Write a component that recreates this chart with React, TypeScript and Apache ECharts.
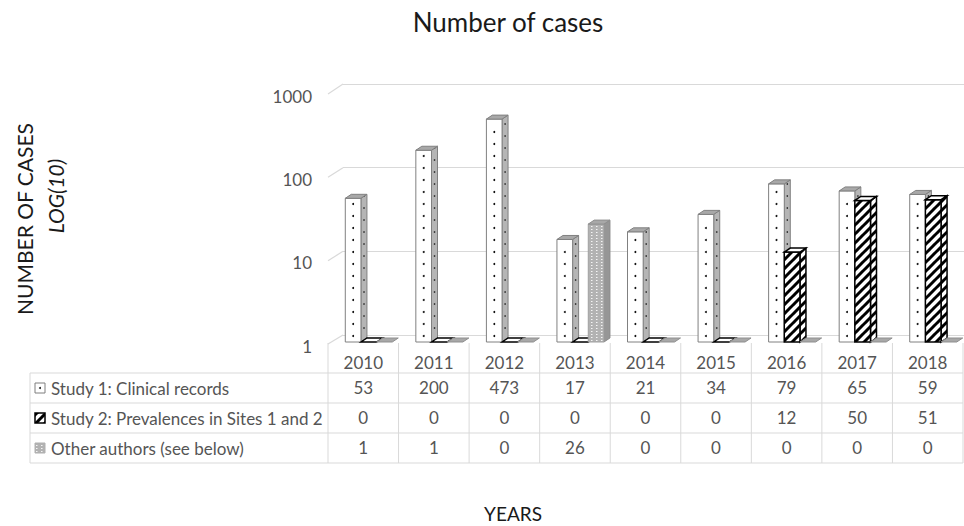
import React, { useEffect, useRef } from "react";
import * as echarts from "echarts";

const years = ["2010", "2011", "2012", "2013", "2014", "2015", "2016", "2017", "2018"];
const study1 = [53, 200, 473, 17, 21, 34, 79, 65, 59];
const study2 = [0, 0, 0, 0, 0, 0, 12, 50, 51];
const others = [1, 1, 0, 26, 0, 0, 0, 0, 0];
const seriesNames = [
  "Study 1: Clinical records",
  "Study 2: Prevalences in Sites 1 and 2",
  "Other authors (see below)",
];
const yTicks = [1, 10, 100, 1000];
const titleText = "Number of cases";
const yTitle1 = "NUMBER OF CASES";
const yTitle2 = "LOG(10)";
const xTitle = "YEARS";

const W = 964;
const H = 526;
const FONT = "Lato, 'Open Sans', sans-serif";
const GRID_LEFT = 328;
const GRID_RIGHT = 1;
const BAR_TOP = 92;
const BAR_BASE = 342;
const ROW_LINES = [373, 403, 433, 463];
const TABLE_LEFT = 30;
const LINE_COLOR = "#d9d9d9";
const TEXT_COLOR = "#555555";
const FS = 17;

function makePattern(w: number, h: number, draw: (ctx: CanvasRenderingContext2D) => void) {
  const c = document.createElement("canvas");
  c.width = w;
  c.height = h;
  const ctx = c.getContext("2d") as CanvasRenderingContext2D;
  draw(ctx);
  return { image: c.toDataURL(), repeat: "repeat", imageWidth: w, imageHeight: h } as any;
}

export default function App() {
  const ref = useRef<HTMLDivElement>(null);
  useEffect(() => {
    if (!ref.current) return;
    const chart = echarts.init(ref.current, null, { renderer: "svg", width: W, height: H });

    const stripe = makePattern(9, 9, (ctx) => {
      ctx.fillStyle = "#ffffff";
      ctx.fillRect(0, 0, 9, 9);
      ctx.strokeStyle = "#000000";
      ctx.lineWidth = 3;
      for (const o of [-9, 0, 9]) {
        ctx.beginPath();
        ctx.moveTo(o - 1, 10);
        ctx.lineTo(o + 10, -1);
        ctx.stroke();
      }
    });
    const grayDots = makePattern(5, 3, (ctx) => {
      ctx.fillStyle = "#b2b2b2";
      ctx.fillRect(0, 0, 5, 3);
      ctx.fillStyle = "#f4f4f4";
      ctx.fillRect(1, 1, 1.5, 1);
    });

    const styles = [
      {
        front: { fill: "#ffffff", stroke: "#808080", lineWidth: 1 },
        side: { fill: "#b5b5b5", stroke: "#808080", lineWidth: 1 },
        top: { fill: "#a8a8a8", stroke: "#808080", lineWidth: 1 },
      },
      {
        front: { fill: stripe, stroke: "#000000", lineWidth: 1.5 },
        side: { fill: stripe, stroke: "#000000", lineWidth: 1.5 },
        top: { fill: "#ffffff", stroke: "#000000", lineWidth: 1.5 },
      },
      {
        front: { fill: grayDots, stroke: "#a0a0a0", lineWidth: 1 },
        side: { fill: "#969696", stroke: "#8a8a8a", lineWidth: 1 },
        top: { fill: "#a8a8a8", stroke: "#8f8f8f", lineWidth: 1 },
      },
    ];

    const makeRenderItem = (si: number) => (params: any, api: any) => {
      const ci = api.value(0);
      const raw = api.value(1);
      const v = Math.max(raw, 1);
      const top = api.coord([ci, v]);
      const base = api.coord([ci, 1]);
      const band = api.size([1, 0])[0];
      const w = band * 0.222;
      const dx = 6;
      const dy = -4;
      const x0 = base[0] - band * 0.255 + si * w;
      const yt = top[1];
      const yb = base[1];
      const h = yb - yt;
      const st = styles[si];
      const children: any[] = [];
      if (h > 0.5) {
        children.push({
          type: "polygon",
          shape: { points: [[x0 + w, yt], [x0 + w + dx, yt + dy], [x0 + w + dx, yb + dy], [x0 + w, yb]] },
          style: st.side,
        });
        children.push({ type: "rect", shape: { x: x0, y: yt, width: w, height: h }, style: st.front });
        if (si === 0) {
          for (let y = yb - 6; y > yt + 3; y -= 12) {
            children.push({ type: "circle", shape: { cx: x0 + w / 2, cy: y, r: 1 }, style: { fill: "#111" } });
            children.push({
              type: "circle",
              shape: { cx: x0 + w + dx / 2, cy: y - 6 + dy / 2, r: 0.8 },
              style: { fill: "#333" },
            });
          }
        }
      }
      children.push({
        type: "polygon",
        shape: { points: [[x0, yt], [x0 + dx, yt + dy], [x0 + w + dx, yt + dy], [x0 + w, yt]] },
        style: st.top,
      });
      return { type: "group", children };
    };

    const allSeries = [study1, study2, others];
    const rows = allSeries;
    const labelOffsets = [25, 55, 85];

    const xAxes: any[] = [
      {
        type: "category",
        gridIndex: 0,
        data: years,
        axisLine: { show: false },
        axisTick: { show: false },
        axisLabel: { margin: 12, color: TEXT_COLOR, fontSize: FS, fontFamily: FONT, interval: 0 },
      },
      ...rows.map((row, ri) => ({
        type: "category",
        gridIndex: 0,
        data: years,
        position: "bottom",
        offset: labelOffsets[ri],
        axisLine: { show: false },
        axisTick: { show: false },
        axisLabel: {
          margin: 12,
          color: TEXT_COLOR,
          fontSize: FS,
          fontFamily: FONT,
          interval: 0,
          formatter: (_v: string, idx: number) => String(row[idx]),
        },
      })),
      { type: "category", gridIndex: 1, data: years, show: false },
      { type: "category", gridIndex: 2, data: years, show: false },
    ];

    const option: any = {
      animation: false,
      backgroundColor: "#ffffff",
      grid: [
        { left: GRID_LEFT, right: GRID_RIGHT, top: BAR_TOP, bottom: H - BAR_BASE },
        { left: 343, right: 0, top: 84, bottom: H - 335 },
        { left: GRID_LEFT, right: GRID_RIGHT, top: 96, bottom: H - 346 },
      ],
      xAxis: xAxes,
      yAxis: [
        {
          type: "log",
          logBase: 10,
          gridIndex: 0,
          min: yTicks[0],
          max: yTicks[yTicks.length - 1],
          axisLine: { show: false },
          axisTick: { show: false },
          splitLine: { show: false },
          axisLabel: { show: false },
        },
        {
          type: "log",
          logBase: 10,
          gridIndex: 1,
          min: yTicks[0],
          max: yTicks[yTicks.length - 1],
          axisLine: { show: false },
          axisTick: { show: false },
          axisLabel: { show: false },
          splitLine: { show: true, lineStyle: { color: LINE_COLOR, width: 1.2 } },
        },
        {
          type: "log",
          logBase: 10,
          gridIndex: 2,
          min: yTicks[0],
          max: yTicks[yTicks.length - 1],
          axisLine: { show: false },
          axisTick: { show: false },
          splitLine: { show: false },
          axisLabel: {
            margin: 16,
            color: TEXT_COLOR,
            fontSize: FS,
            fontFamily: FONT,
            formatter: (v: number) => String(Math.round(v)),
          },
        },
      ],
      series: allSeries.map((data, si) => ({
        type: "custom",
        name: seriesNames[si],
        xAxisIndex: 0,
        yAxisIndex: 0,
        clip: false,
        renderItem: makeRenderItem(si),
        data: data.map((v, i) => [i, v]),
      })),
    };
    chart.setOption(option);

    const g: any[] = [];
    const colW = (W - GRID_LEFT - GRID_RIGHT) / years.length;
    for (let k = 0; k <= years.length; k++) {
      const x = GRID_LEFT + k * colW;
      g.push({
        type: "line",
        shape: { x1: x, y1: 343, x2: x, y2: ROW_LINES[ROW_LINES.length - 1] },
        style: { stroke: LINE_COLOR, lineWidth: 1 },
      });
    }
    g.push({
      type: "line",
      shape: { x1: TABLE_LEFT, y1: ROW_LINES[0], x2: TABLE_LEFT, y2: ROW_LINES[ROW_LINES.length - 1] },
      style: { stroke: LINE_COLOR, lineWidth: 1 },
    });
    ROW_LINES.forEach((y) =>
      g.push({
        type: "line",
        shape: { x1: TABLE_LEFT, y1: y, x2: W - GRID_RIGHT, y2: y },
        style: { stroke: LINE_COLOR, lineWidth: 1 },
      })
    );
    yTicks.forEach((t) => {
      const yf = chart.convertToPixel({ yAxisIndex: 2 } as any, t) as number;
      const yb = chart.convertToPixel({ yAxisIndex: 1 } as any, t) as number;
      g.push({
        type: "line",
        shape: { x1: GRID_LEFT, y1: yf - 2, x2: 343, y2: yb },
        style: { stroke: LINE_COLOR, lineWidth: 1.2 },
      });
    });
    seriesNames.forEach((name, i) => {
      const cy = (ROW_LINES[i] + ROW_LINES[i + 1]) / 2;
      const iconStyles = [
        { fill: "#ffffff", stroke: "#7f7f7f", lineWidth: 1 },
        { fill: stripe, stroke: "#000000", lineWidth: 1.5 },
        { fill: grayDots, stroke: "#b0b0b0", lineWidth: 1 },
      ];
      g.push({ type: "rect", shape: { x: 35, y: cy - 5, width: 10, height: 10 }, style: iconStyles[i] });
      if (i === 0) g.push({ type: "circle", shape: { cx: 40, cy, r: 1 }, style: { fill: "#222" } });
      g.push({
        type: "text",
        x: 51,
        y: cy,
        style: { text: name, fill: TEXT_COLOR, font: `${FS}px ${FONT}`, textAlign: "left", textVerticalAlign: "middle" },
      });
    });
    g.push({
      type: "text",
      x: 508,
      y: 22,
      style: { text: titleText, fill: "#1a1a1a", font: `26px ${FONT}`, textAlign: "center", textVerticalAlign: "middle" },
    });
    g.push({
      type: "text",
      x: 513,
      y: 513,
      style: { text: xTitle, fill: "#1a1a1a", font: `19px ${FONT}`, textAlign: "center", textVerticalAlign: "middle" },
    });
    g.push({
      type: "text",
      x: 24,
      y: 219,
      rotation: Math.PI / 2,
      style: { text: yTitle1, fill: "#1a1a1a", font: `21px ${FONT}`, textAlign: "center", textVerticalAlign: "middle" },
    });
    g.push({
      type: "text",
      x: 55,
      y: 196,
      rotation: Math.PI / 2,
      style: {
        text: yTitle2,
        fill: "#1a1a1a",
        font: `italic 21px ${FONT}`,
        textAlign: "center",
        textVerticalAlign: "middle",
      },
    });
    chart.setOption({ graphic: g });

    return () => chart.dispose();
  }, []);
  return <div ref={ref} style={{ position: "fixed", left: 0, top: 0, width: W, height: H }} />;
}
